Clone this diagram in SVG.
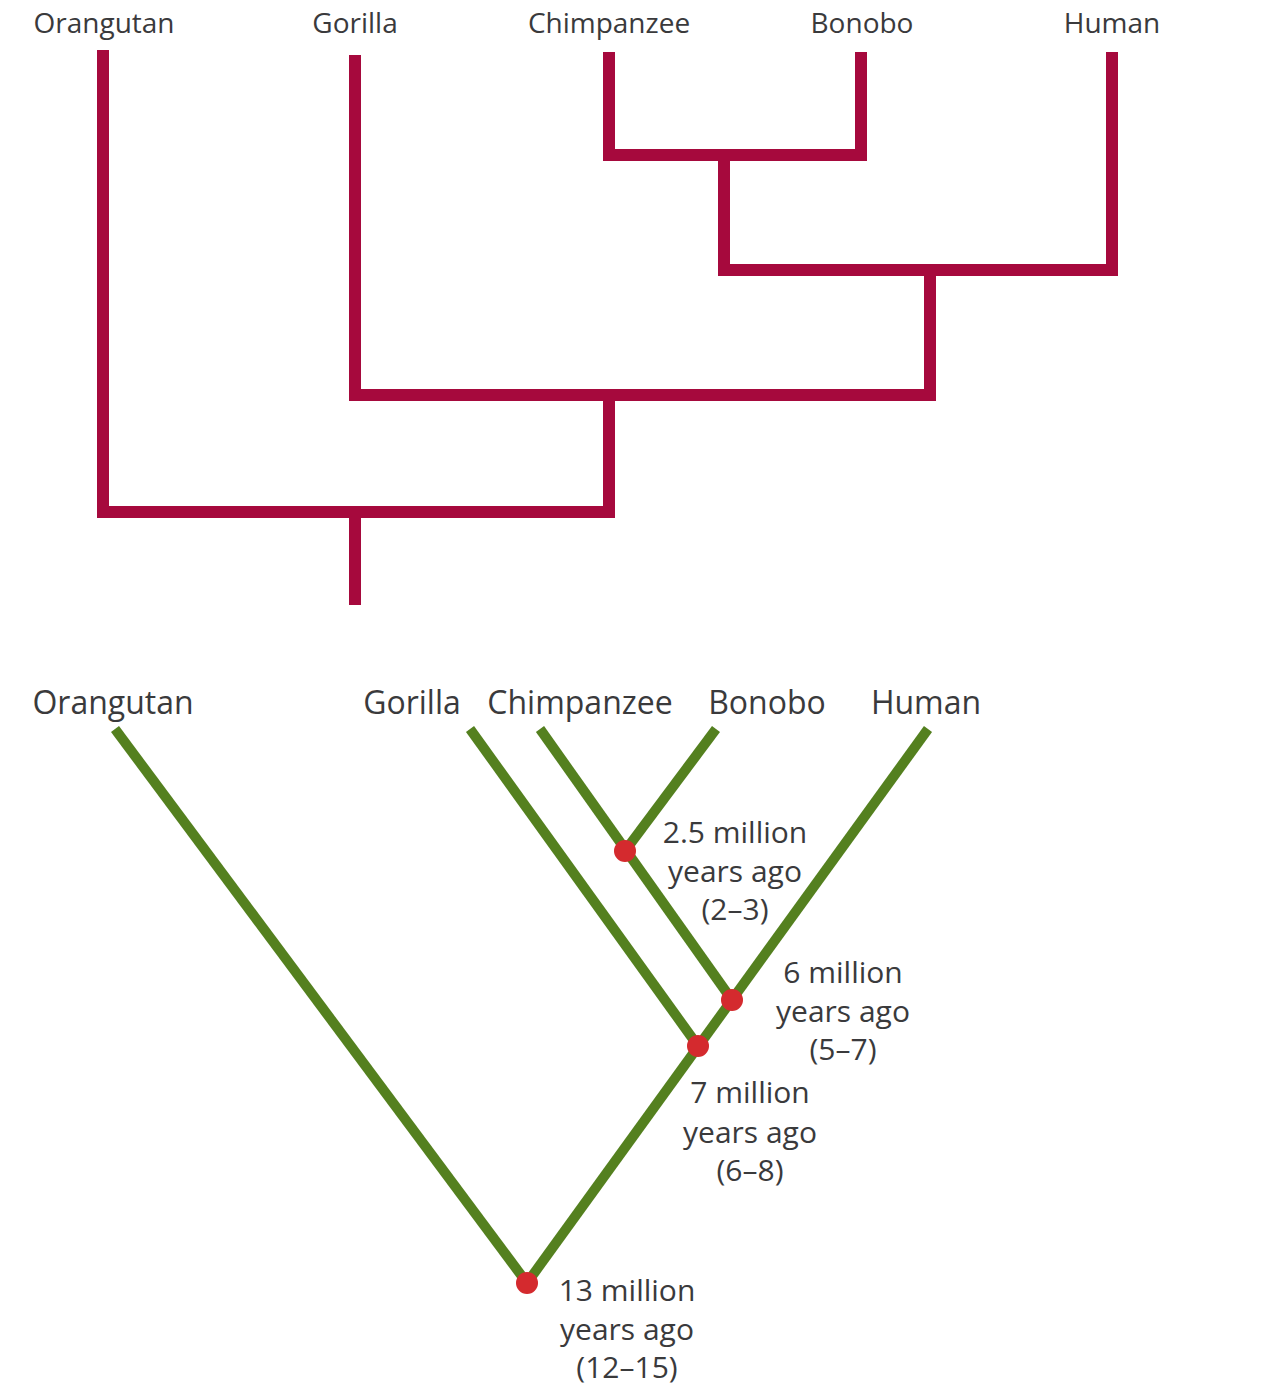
<svg xmlns="http://www.w3.org/2000/svg" width="1280" height="1385" viewBox="0 0 1280 1385">
<style>
.lbl{font-family:"Open Sans","Liberation Sans",sans-serif;fill:#3a3a3c;text-anchor:middle}
.top{font-size:28px}
.bot{font-size:32px}
.note{font-size:30px}
.red{fill:none;stroke:#A6093D;stroke-width:12;stroke-linejoin:miter;stroke-linecap:butt}
.grn{fill:none;stroke:#54801F;stroke-width:10;stroke-linecap:butt}
.dot{fill:#D42A2E}
</style>
<rect width="1280" height="1385" fill="#ffffff"/>
<g id="top-labels">
<g id="t-orangutan"><text class="lbl top" x="104" y="33">Orangutan</text></g>
<g id="t-gorilla"><text class="lbl top" x="355" y="33">Gorilla</text></g>
<g id="t-chimpanzee"><text class="lbl top" x="609" y="33">Chimpanzee</text></g>
<g id="t-bonobo"><text class="lbl top" x="862" y="33">Bonobo</text></g>
<g id="t-human"><text class="lbl top" x="1112" y="33">Human</text></g>
</g>
<g id="top-connectors">
<path class="red" d="M609,52 V155 H861 V52"/>
<path class="red" d="M724,155 V270 H1112 V52"/>
<path class="red" d="M355,55 V395 H930 V270"/>
<path class="red" d="M103,50 V512 H609 V395"/>
<path class="red" d="M355,512 V605" stroke-width="11"/>
</g>
<g id="bottom-labels">
<g id="b-orangutan"><text class="lbl bot" x="113" y="714">Orangutan</text></g>
<g id="b-gorilla"><text class="lbl bot" x="412" y="714">Gorilla</text></g>
<g id="b-chimpanzee"><text class="lbl bot" x="580" y="714">Chimpanzee</text></g>
<g id="b-bonobo"><text class="lbl bot" x="767" y="714">Bonobo</text></g>
<g id="b-human"><text class="lbl bot" x="926" y="714">Human</text></g>
</g>
<g id="bottom-connectors">
<line class="grn" x1="115" y1="729" x2="527" y2="1283"/>
<line class="grn" x1="928" y1="729" x2="527" y2="1283"/>
<line class="grn" x1="470" y1="729" x2="698" y2="1046"/>
<line class="grn" x1="540" y1="729" x2="732" y2="1000"/>
<line class="grn" x1="716" y1="729" x2="625" y2="851"/>
</g>
<g id="node-2-5">
<circle class="dot" cx="625" cy="851" r="11"/>
<text class="lbl note" x="735" y="843">2.5 million</text>
<text class="lbl note" x="735" y="882">years ago</text>
<text class="lbl note" x="735" y="920">(2–3)</text>
</g>
<g id="node-6">
<circle class="dot" cx="732" cy="1000" r="11"/>
<text class="lbl note" x="843" y="983">6 million</text>
<text class="lbl note" x="843" y="1022">years ago</text>
<text class="lbl note" x="843" y="1060">(5–7)</text>
</g>
<g id="node-7">
<circle class="dot" cx="698" cy="1046" r="11"/>
<text class="lbl note" x="750" y="1103">7 million</text>
<text class="lbl note" x="750" y="1143">years ago</text>
<text class="lbl note" x="750" y="1181">(6–8)</text>
</g>
<g id="node-13">
<circle class="dot" cx="527" cy="1283" r="11"/>
<text class="lbl note" x="627" y="1301">13 million</text>
<text class="lbl note" x="627" y="1340">years ago</text>
<text class="lbl note" x="627" y="1378">(12–15)</text>
</g>
</svg>
